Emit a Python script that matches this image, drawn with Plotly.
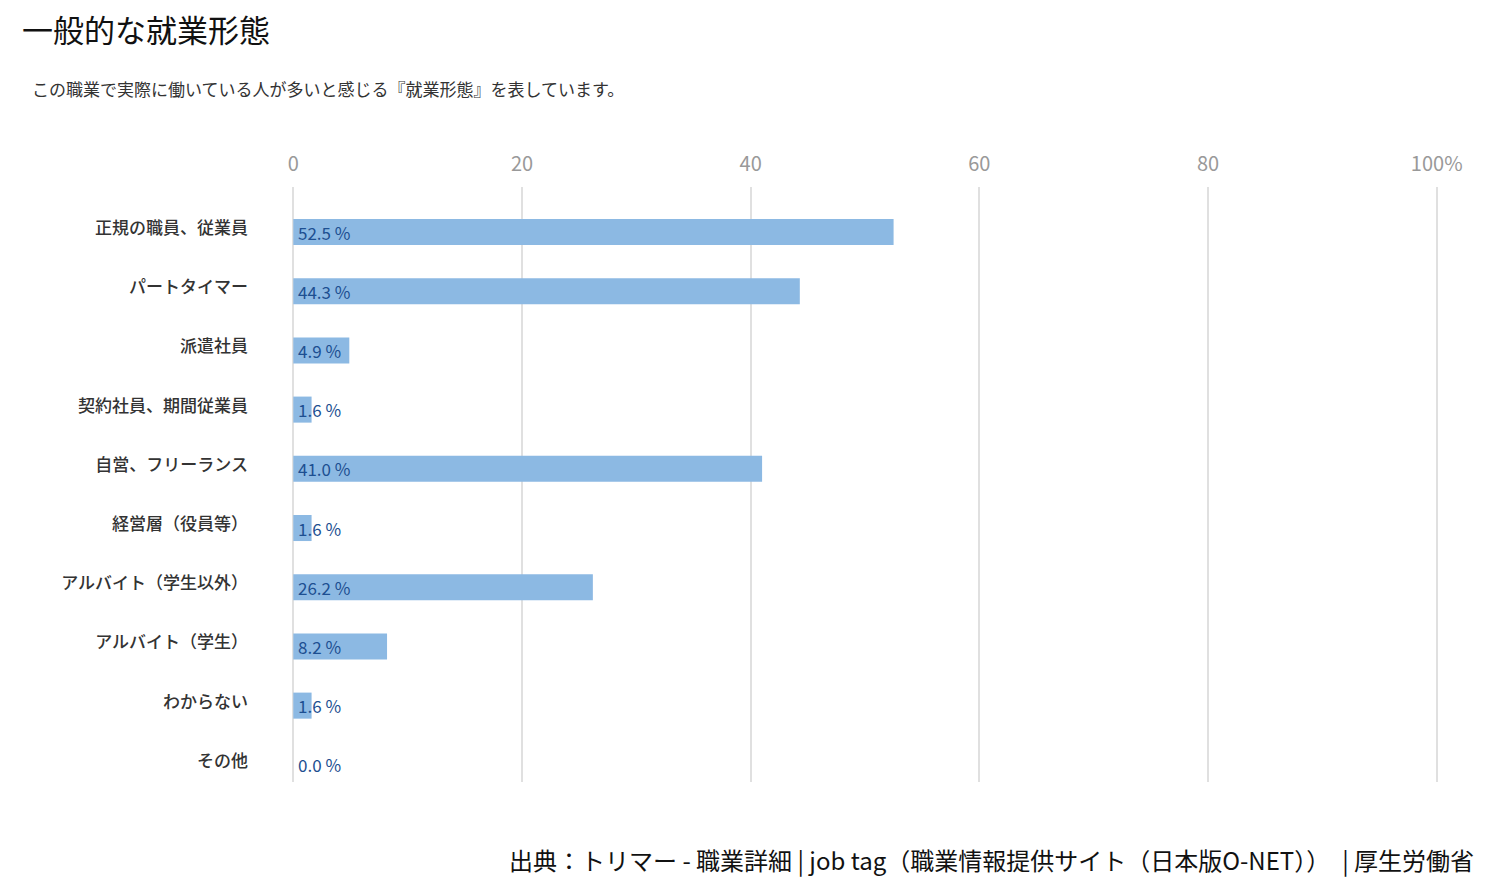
import plotly.graph_objects as go

categories = ["正規の職員、従業員", "パートタイマー", "派遣社員", "契約社員、期間従業員",
              "自営、フリーランス", "経営層（役員等）", "アルバイト（学生以外）",
              "アルバイト（学生）", "わからない", "その他"]
values = [52.5, 44.3, 4.9, 1.6, 41.0, 1.6, 26.2, 8.2, 1.6, 0.0]
tick_vals = [0, 20, 40, 60, 80, 100]
tick_text = ["0", "20", "40", "60", "80", "100%"]

FONT = "Noto Sans CJK JP"

fig = go.Figure()
fig.add_trace(go.Bar(
    x=values, y=categories, orientation="h",
    marker=dict(color="#8cb9e3", line=dict(width=0)),
    width=0.44, hoverinfo="skip", showlegend=False,
))
# invisible trace carrying the category labels (slightly raised, as in the original)
fig.add_trace(go.Scatter(
    x=values, y=categories, yaxis="y2", mode="markers",
    marker=dict(opacity=0), hoverinfo="skip", showlegend=False,
))

annotations = []
for c, v in zip(categories, values):
    annotations.append(dict(
        x=0, y=c, xref="x", yref="y", text=f"{v:.1f} %", showarrow=False,
        xanchor="left", yanchor="middle", xshift=3, yshift=0,
        font=dict(family=FONT, size=17, color="#1d4f91"),
    ))

W, H = 1500, 884
pl, pr, pt, pb = 291, 61, 187, 102
pw, ph = W - pl - pr, H - pt - pb


def px2paper(px, py):
    return (px - pl) / pw, 1 - (py - pt) / ph


for text, px, py, anchor, size in [
    ("一般的な就業形態", 20, 28, "left", 31),
    ("この職業で実際に働いている人が多いと感じる『就業形態』を表しています。", 30, 89, "left", 17),
    ("出典：トリマー - 職業詳細 | job tag（職業情報提供サイト（日本版O-NET））　| 厚生労働省", 1476, 859, "right", 24),
]:
    xx, yy = px2paper(px, py)
    annotations.append(dict(
        text=text, x=xx, y=yy, xref="paper", yref="paper", showarrow=False,
        xanchor=anchor, yanchor="middle",
        font=dict(family=FONT, size=size, color="#111111" if size != 17 else "#333333"),
    ))

shift = 4 / 59.2
fig.update_layout(
    width=W, height=H,
    margin=dict(l=pl, r=pr, t=pt, b=pb),
    paper_bgcolor="white", plot_bgcolor="white",
    font=dict(family=FONT),
    xaxis=dict(
        side="top", range=[-0.2, 100.2], tickvals=tick_vals, ticktext=tick_text,
        showgrid=True, gridcolor="#e0e0e0", gridwidth=2,
        zeroline=False, showline=False, ticks="",
        tickfont=dict(family=FONT, size=20, color="#999999"),
        ticklabelstandoff=11,
    ),
    yaxis=dict(
        type="category", categoryorder="array", categoryarray=categories,
        range=[9.29, -0.76],
        showgrid=False, zeroline=False, showline=False, ticks="",
        showticklabels=False,
    ),
    yaxis2=dict(
        type="category", categoryorder="array", categoryarray=categories,
        overlaying="y", side="left",
        range=[9.29 + shift, -0.76 + shift],
        showgrid=False, zeroline=False, showline=False, ticks="",
        tickfont=dict(family=FONT, size=17, color="#333333", weight=500),
        ticklabelstandoff=42,
    ),
    annotations=annotations,
)

fig.write_html("out.html")
